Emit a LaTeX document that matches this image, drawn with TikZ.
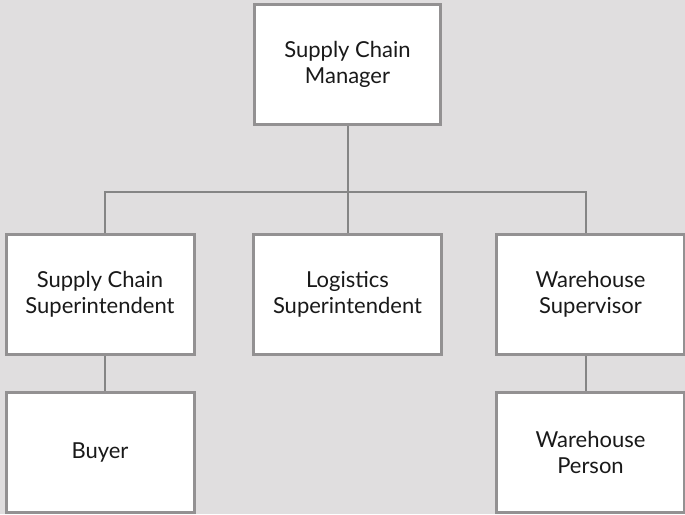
\documentclass[tikz,border=0pt]{standalone}
\usepackage{fontspec}
\setmainfont{Lato}
\definecolor{bgray}{HTML}{E0DEDF}
\definecolor{fgray}{HTML}{939192}
\definecolor{lgray}{HTML}{858585}
\tikzset{
  post/.style={draw=fgray, line width=3pt, fill=white, align=center,
    minimum width=188pt, minimum height=120pt, inner sep=0pt,
    font=\fontsize{22}{26}\selectfont, text=black!90},
  link/.style={draw=lgray, line width=2pt}
}
\begin{document}
\begin{tikzpicture}[x=1pt,y=-1pt]
\fill[bgray] (0,0) rectangle (685,514);
\useasboundingbox (0,0) rectangle (685,514);
% top
\node[post, minimum width=186pt] (scm) at (347.5,64.5) {Supply Chain\\Manager};
% second row
\node[post] (scs) at (100,294.5) {Supply Chain\\Superintendent};
\node[post] (ls) at (347.5,294.5) {Logistics\\Superintendent};
\node[post] (ws) at (590.5,294.5) {Warehouse\\Supervisor};
% third row
\node[post] (buy) at (100,452) {Buyer};
\node[post] (wp) at (590.5,452) {Warehouse\\Person};
% links
\coordinate (bar) at (0,192);
\draw[link] (scm.south) -- (scm.south |- bar);
\draw[link] ([xshift=5pt]scs.north) |- (scm.south |- bar) -| ([xshift=-4.5pt]ws.north);
\draw[link] (scm.south |- bar) -- (ls.north);
\draw[link] ([xshift=5pt]scs.south) -- ([xshift=5pt]buy.north);
\draw[link] ([xshift=-4.5pt]ws.south) -- ([xshift=-4.5pt]wp.north);
\end{tikzpicture}
\end{document}
